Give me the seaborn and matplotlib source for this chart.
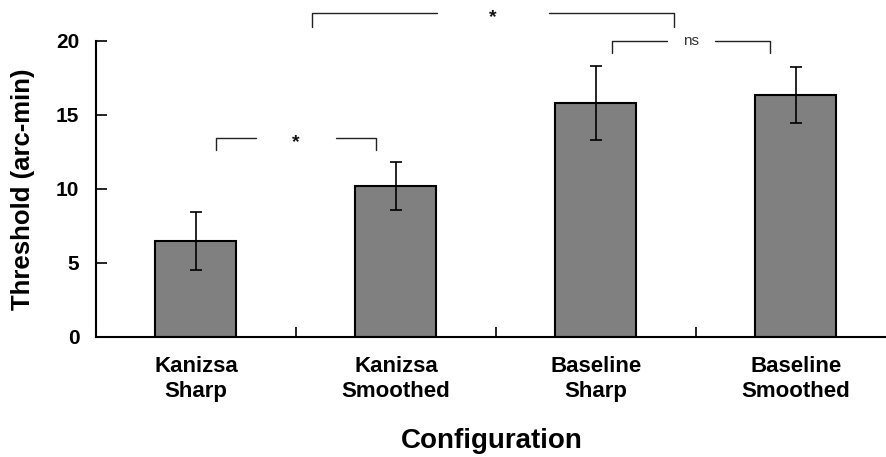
import numpy as np
import pandas as pd
import seaborn as sns
import matplotlib.pyplot as plt

# data
categories = ["Kanizsa\nSharp", "Kanizsa\nSmoothed", "Baseline\nSharp", "Baseline\nSmoothed"]
thresholds = [6.5, 10.2, 15.8, 16.35]
errors = [1.95, 1.6, 2.5, 1.9]

# significance brackets: (x left, x right, top y, drop, label)
bracket_left = [0.10, 0.58, 2.08]
bracket_right = [0.90, 2.39, 2.87]
bracket_top = [13.43, 21.87, 20.02]
bracket_drop = [0.8, 0.9, 0.85]
bracket_gap = [0.2, 0.28, 0.12]
bracket_labels = ["*", "*", "ns"]

sns.set_theme(style="ticks")
plt.rcParams['font.family'] = ['Liberation Sans', 'DejaVu Sans']
plt.rcParams['text.color'] = 'black'
plt.rcParams['axes.labelcolor'] = 'black'
plt.rcParams['xtick.color'] = 'black'
plt.rcParams['ytick.color'] = 'black'

df = pd.DataFrame({"Configuration": categories, "Threshold": thresholds})

fig = plt.figure(figsize=(8.87, 4.57), dpi=100)
ax = fig.add_axes([0.1082, 0.2626, 0.8918, 0.6477])

sns.barplot(data=df, x="Configuration", y="Threshold", color="#808080",
            saturation=1, width=0.405, edgecolor="black", linewidth=1.5,
            errorbar=None, ax=ax)
ax.errorbar(np.arange(len(categories)), thresholds, yerr=errors, fmt="none",
            ecolor="black", elinewidth=1.2, capsize=4, capthick=1.2)

ax.set_xlim(-0.5, 3.455)
ax.set_ylim(0, 20)
ax.set_yticks([0, 5, 10, 15, 20])
ax.set_xticks(np.arange(len(categories)))
ax.set_xticklabels(categories, fontsize=16, fontweight="bold", linespacing=1.2)
ax.set_xticks([0.5, 1.5, 2.5], minor=True)
ax.tick_params(axis="x", which="major", length=0, pad=14)
ax.tick_params(axis="x", which="minor", direction="in", length=7, width=1.2)
ax.tick_params(axis="y", direction="in", length=8, width=1.2, labelsize=15, pad=12)
for lab in ax.get_yticklabels():
    lab.set_fontweight("bold")

ax.set_xlabel("Configuration", fontsize=20, fontweight="bold", labelpad=19)
ax.set_ylabel("Threshold (arc-min)", fontsize=18.5, fontweight="bold")
ax.yaxis.set_label_coords(-0.077, 0.5)

sns.despine(ax=ax)
for sp in ["left", "bottom"]:
    ax.spines[sp].set_linewidth(1.5)
    ax.spines[sp].set_color("black")

# brackets with a gap for the label
for xl, xr, yt, d, g, lab in zip(bracket_left, bracket_right, bracket_top,
                                  bracket_drop, bracket_gap, bracket_labels):
    xm = (xl + xr) / 2
    kw = dict(color="#222222", lw=1.0, clip_on=False)
    ax.plot([xl, xl, xm - g], [yt - d, yt, yt], **kw)
    ax.plot([xm + g, xr, xr], [yt, yt, yt - d], **kw)
    if lab == "*":
        ax.text(xm, yt - 0.3, lab, ha="center", va="center", fontsize=14,
                fontweight="bold", color="#111111", clip_on=False)
    else:
        ax.text(xm, yt, lab, ha="center", va="center", fontsize=11,
                color="#333333", clip_on=False)

fig.savefig("out.png", dpi=100)
